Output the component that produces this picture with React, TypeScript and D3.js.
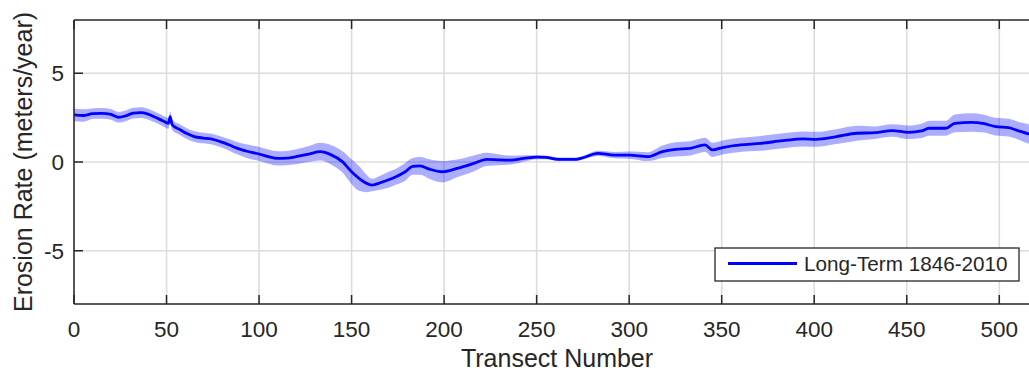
import React from "react";
import * as d3 from "d3";

// Transect numbers along the shoreline
const transects = [
  0, 5, 10, 15, 20, 24, 28, 32, 36, 40, 44, 48, 51, 52, 53, 57, 61, 65, 70, 74,
  79, 84, 88, 93, 100, 105, 110, 115, 120, 127, 133, 139, 145, 150, 154, 158,
  161, 166, 170, 174, 179, 183, 187, 192, 199, 207, 216, 223, 230, 236, 243,
  250, 255, 262, 271, 275, 283, 292, 300, 310, 318, 325, 333, 341, 345, 351,
  360, 371, 383, 394, 401, 412, 423, 433, 442, 451, 458, 462, 471, 476, 485,
  491, 498, 505, 510, 516, 521,
];

// Long-term erosion rate (m/yr), 1846-2010
const rates = [
  2.65, 2.62, 2.72, 2.74, 2.68, 2.52, 2.6, 2.75, 2.78, 2.7, 2.52, 2.32, 2.18,
  2.55, 2.1, 1.84, 1.6, 1.43, 1.35, 1.3, 1.15, 0.96, 0.78, 0.62, 0.45, 0.3,
  0.2, 0.22, 0.3, 0.45, 0.58, 0.4, 0.02, -0.55, -0.92, -1.2, -1.3, -1.15, -1.0,
  -0.83, -0.55, -0.25, -0.22, -0.4, -0.55, -0.36, -0.08, 0.15, 0.12, 0.11,
  0.2, 0.28, 0.26, 0.15, 0.15, 0.24, 0.49, 0.39, 0.39, 0.3, 0.58, 0.71, 0.77,
  0.96, 0.68, 0.83, 0.96, 1.05, 1.2, 1.3, 1.28, 1.43, 1.62, 1.65, 1.77, 1.67,
  1.75, 1.9, 1.9, 2.18, 2.23, 2.18, 1.99, 1.93, 1.77, 1.58, 1.45,
];

// Half-width of the uncertainty band (m/yr)
const uncertainty = [
  0.35, 0.35, 0.3, 0.3, 0.3, 0.3, 0.3, 0.3, 0.3, 0.3, 0.3, 0.3, 0.3, 0.3, 0.3,
  0.3, 0.3, 0.3, 0.3, 0.3, 0.3, 0.32, 0.35, 0.38, 0.4, 0.4, 0.4, 0.4, 0.42,
  0.45, 0.5, 0.55, 0.6, 0.7, 0.7, 0.5, 0.35, 0.4, 0.45, 0.45, 0.5, 0.47, 0.5,
  0.55, 0.6, 0.5, 0.45, 0.37, 0.3, 0.25, 0.18, 0.12, 0.1, 0.1, 0.1, 0.1, 0.15,
  0.18, 0.2, 0.25, 0.35, 0.4, 0.4, 0.4, 0.4, 0.4, 0.4, 0.42, 0.42, 0.42, 0.42,
  0.42, 0.42, 0.35, 0.35, 0.38, 0.4, 0.42, 0.42, 0.5, 0.52, 0.5, 0.5, 0.5,
  0.5, 0.55, 0.55,
];

const xTicks = [0, 50, 100, 150, 200, 250, 300, 350, 400, 450, 500];
const yTicks = [-5, 0, 5];
const legendLabel = "Long-Term 1846-2010";

const W = 1029;
const H = 373;
const FONT = '"Liberation Sans", Arial, Helvetica, sans-serif';
const INK = "#262626";

export default function App() {
  const left = 74;
  const right = 1040;
  const top = 20;
  const bottom = 304;

  const x = d3.scaleLinear().domain([0, 522]).range([left, right]);
  const y = d3.scaleLinear().domain([-8, 8]).range([bottom, top]);

  const rows = transects.map((t, i) => ({
    t,
    v: rates[i],
    e: uncertainty[i],
  }));

  const band = d3
    .area<{ t: number; v: number; e: number }>()
    .x((d) => x(d.t))
    .y0((d) => y(d.v - d.e))
    .y1((d) => y(d.v + d.e))
    .curve(d3.curveMonotoneX);

  const line = d3
    .line<{ t: number; v: number; e: number }>()
    .x((d) => x(d.t))
    .y((d) => y(d.v))
    .curve(d3.curveMonotoneX);

  const tickLen = 9;

  return (
    <svg
      width={W}
      height={H}
      style={{ position: "absolute", left: 0, top: 0, background: "#fff" }}
      fontFamily={FONT}
    >
      <rect x={0} y={0} width={W} height={H} fill="#fff" />
      <defs>
        <clipPath id="plot-area">
          <rect x={left} y={top} width={right - left} height={bottom - top} />
        </clipPath>
      </defs>

      {/* grid */}
      <g stroke="#dcdcdc" strokeWidth={1.6}>
        {xTicks.map((t) => (
          <line key={"gx" + t} x1={x(t)} x2={x(t)} y1={top} y2={bottom} />
        ))}
        {yTicks.map((t) => (
          <line key={"gy" + t} x1={left} x2={right} y1={y(t)} y2={y(t)} />
        ))}
      </g>

      {/* uncertainty band and rate line */}
      <g clipPath="url(#plot-area)">
        <path d={band(rows) ?? ""} fill="#0000ff" fillOpacity={0.32} stroke="none" />
        <path
          d={line(rows) ?? ""}
          fill="none"
          stroke="#0000ff"
          strokeWidth={2.8}
          strokeLinejoin="round"
        />
      </g>

      {/* axes */}
      <g stroke={INK} strokeWidth={1.5} fill="none">
        <line x1={left} x2={right} y1={bottom} y2={bottom} />
        <line x1={left} x2={right} y1={top} y2={top} />
        <line x1={left} x2={left} y1={top} y2={bottom} />
        {xTicks.map((t) => (
          <g key={"tx" + t}>
            <line x1={x(t)} x2={x(t)} y1={bottom} y2={bottom - tickLen} />
            <line x1={x(t)} x2={x(t)} y1={top} y2={top + tickLen} />
          </g>
        ))}
        {yTicks.map((t) => (
          <line key={"ty" + t} x1={left} x2={left + tickLen} y1={y(t)} y2={y(t)} />
        ))}
      </g>

      {/* tick labels */}
      <g fill={INK} fontSize={22.5}>
        {xTicks.map((t) => (
          <text key={"lx" + t} x={x(t)} y={336.5} textAnchor="middle">
            {t}
          </text>
        ))}
        {yTicks.map((t) => (
          <text key={"ly" + t} x={64} y={y(t) + 8} textAnchor="end">
            {t}
          </text>
        ))}
      </g>

      {/* axis titles */}
      <text
        x={(left + right) / 2}
        y={366.5}
        textAnchor="middle"
        fontSize={25}
        fill={INK}
      >
        Transect Number
      </text>
      <text
        transform={`translate(32,${(top + bottom) / 2}) rotate(-90)`}
        textAnchor="middle"
        fontSize={25}
        fill={INK}
      >
        Erosion Rate (meters/year)
      </text>

      {/* legend */}
      <g>
        <rect x={715} y={248} width={304} height={33} fill="#fff" stroke={INK} strokeWidth={1.3} />
        <line x1={728} x2={797} y1={263.5} y2={263.5} stroke="#0000ff" strokeWidth={2.8} />
        <text x={804} y={271} fontSize={20.7} fill={INK}>
          {legendLabel}
        </text>
      </g>
    </svg>
  );
}
